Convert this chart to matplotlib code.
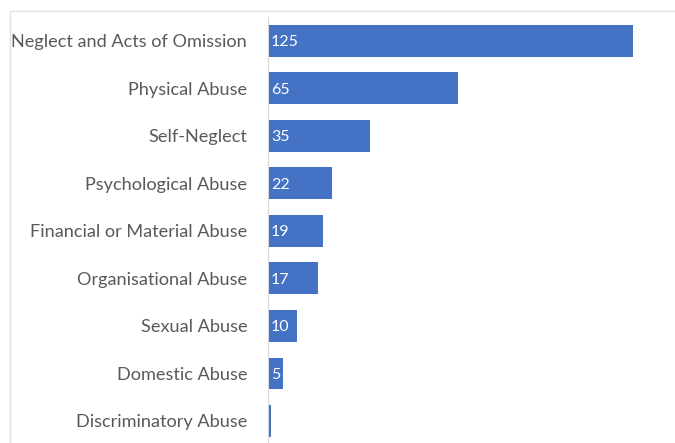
import matplotlib.pyplot as plt
from matplotlib.patches import Rectangle

categories = ["Neglect and Acts of Omission", "Physical Abuse", "Self-Neglect",
              "Psychological Abuse", "Financial or Material Abuse",
              "Organisational Abuse", "Sexual Abuse", "Domestic Abuse",
              "Discriminatory Abuse"]
values = [125, 65, 35, 22, 19, 17, 10, 5, 1]

plt.rcParams['font.family'] = ['Lato', 'DejaVu Sans']

fig = plt.figure(figsize=(6.75, 4.43), dpi=100)
# light chart-area frame, cut off at right and bottom
fig.patches.append(Rectangle((10 / 675, -0.1), 1.0, 1 - 11 / 443 + 0.1,
                             transform=fig.transFigure, fill=False,
                             edgecolor="#e3e3e3", linewidth=1))

ax = fig.add_axes([268 / 675, 0, 1 - 268 / 675, 1 - 17 / 443])
pos = list(range(len(categories)))
bars = ax.barh(pos, values, height=0.67, color="#4472C4")

for b, v in zip(bars, values):
    if v >= 5:
        ax.text(1.0, b.get_y() + b.get_height() / 2 + 0.03, str(v), color="white",
                va="center", ha="left", fontsize=11.5)

ax.set_yticks(pos)
ax.set_yticklabels(categories, fontsize=13.1, color="#595959")
ax.tick_params(axis="y", length=0, pad=15)
ax.set_xticks([])
ax.set_xlim(0, 139.4)
ax.set_ylim(8.5 - 1.75 / 47.5, -0.5)
for s in ["top", "right", "bottom"]:
    ax.spines[s].set_visible(False)
ax.spines["left"].set_color("#d9d9d9")

fig.savefig("out.png", dpi=100)
